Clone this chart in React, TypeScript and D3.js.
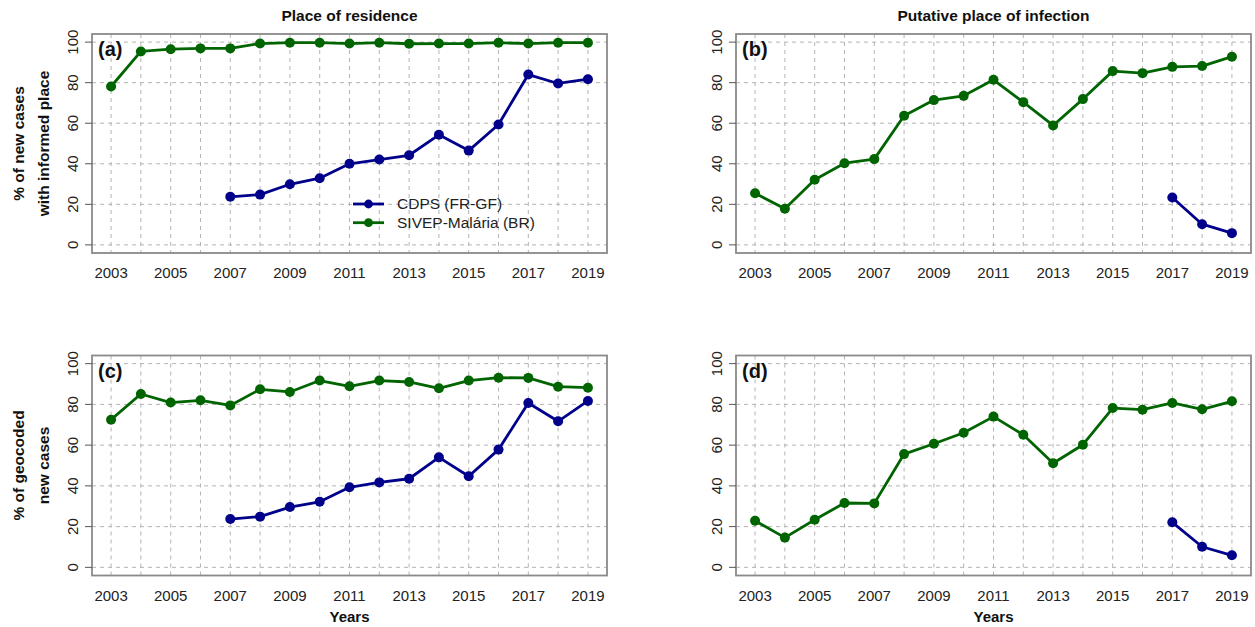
import React from "react";
import * as d3 from "d3";

// ---- data ----
const years = [2003, 2004, 2005, 2006, 2007, 2008, 2009, 2010, 2011, 2012, 2013, 2014, 2015, 2016, 2017, 2018, 2019];
const xTickYears = [2003, 2005, 2007, 2009, 2011, 2013, 2015, 2017, 2019];
const yTicks = [0, 20, 40, 60, 80, 100];

const residenceBR = [78.1, 95.4, 96.5, 96.9, 96.9, 99.3, 99.7, 99.7, 99.3, 99.7, 99.2, 99.3, 99.3, 99.7, 99.3, 99.7, 99.7];
const residenceFR = [null, null, null, null, 23.7, 24.8, 29.9, 32.9, 40.0, 42.1, 44.2, 54.3, 46.5, 59.4, 84.0, 79.6, 81.7];
const infectionBR = [25.5, 17.8, 32.1, 40.3, 42.3, 63.7, 71.4, 73.5, 81.4, 70.4, 58.9, 71.9, 85.7, 84.7, 87.8, 88.2, 92.8];
const infectionFR = [null, null, null, null, null, null, null, null, null, null, null, null, null, null, 23.4, 10.2, 5.8];
const geoResidenceBR = [72.5, 85.1, 80.9, 82.0, 79.5, 87.4, 86.1, 91.7, 88.9, 91.7, 91.0, 87.9, 91.7, 93.1, 93.0, 88.7, 88.2];
const geoResidenceFR = [null, null, null, null, 23.7, 24.9, 29.6, 32.2, 39.3, 41.7, 43.5, 54.0, 44.7, 57.8, 80.7, 71.7, 81.7];
const geoInfectionBR = [22.9, 14.6, 23.4, 31.6, 31.4, 55.6, 60.7, 66.1, 74.0, 65.1, 51.1, 60.2, 78.2, 77.4, 80.7, 77.6, 81.5];
const geoInfectionFR = [null, null, null, null, null, null, null, null, null, null, null, null, null, null, 22.1, 10.1, 5.9];

const seriesNames = ["CDPS (FR-GF)", "SIVEP-Malária (BR)"];
const columnTitles = ["Place of residence", "Putative place of infection"];
const rowLabels = [["% of new cases", "with informed place"], ["% of geocoded", "new cases"]];
const panelLetters = ["(a)", "(b)", "(c)", "(d)"];

const BLUE = "#00008B";
const GREEN = "#006400";
const FONT = "'Liberation Sans', Arial, Helvetica, sans-serif";

type Panel = {
  letter: string;
  fr: (number | null)[];
  br: (number | null)[];
  col: number;
  row: number;
};

const panels: Panel[] = [
  { letter: panelLetters[0], fr: residenceFR, br: residenceBR, col: 0, row: 0 },
  { letter: panelLetters[1], fr: infectionFR, br: infectionBR, col: 1, row: 0 },
  { letter: panelLetters[2], fr: geoResidenceFR, br: geoResidenceBR, col: 0, row: 1 },
  { letter: panelLetters[3], fr: geoInfectionFR, br: geoInfectionBR, col: 1, row: 1 },
];

const colX = [
  [92, 607],
  [736, 1251],
];
const rowY = [
  [34, 253],
  [355.5, 575.5],
];

function PanelView({ p }: { p: Panel }) {
  const [x0, x1] = colX[p.col];
  const [y0, y1] = rowY[p.row];
  const x = d3.scaleLinear().domain([2003 - 0.64, 2019 + 0.64]).range([x0, x1]);
  const y = d3.scaleLinear().domain([-4, 104]).range([y1, y0]);
  const line = d3
    .line<number | null>()
    .defined((d) => d !== null)
    .x((_, i) => x(years[i]))
    .y((d) => y(d as number));

  const drawSeries = (vals: (number | null)[], color: string) => (
    <g>
      <path d={line(vals) || ""} fill="none" stroke={color} strokeWidth={2.8} strokeLinejoin="round" />
      {vals.map((v, i) =>
        v === null ? null : <circle key={i} cx={x(years[i])} cy={y(v)} r={5} fill={color} />
      )}
    </g>
  );

  const cx = (x0 + x1) / 2;
  const cy = (y0 + y1) / 2;

  return (
    <g>
      {years.map((yr) => (
        <line key={"v" + yr} x1={x(yr)} x2={x(yr)} y1={y0} y2={y1} stroke="#b4b4b4" strokeWidth={1} strokeDasharray="4,4" />
      ))}
      {yTicks.map((t) => (
        <line key={"h" + t} x1={x0} x2={x1} y1={y(t)} y2={y(t)} stroke="#b4b4b4" strokeWidth={1} strokeDasharray="4,4" />
      ))}
      {drawSeries(p.br, GREEN)}
      {drawSeries(p.fr, BLUE)}
      <rect x={x0} y={y0} width={x1 - x0} height={y1 - y0} fill="none" stroke="#8a8a8a" strokeWidth={1.8} />
      {yTicks.map((t) => (
        <g key={"yt" + t}>
          <line x1={x0 - 7} x2={x0} y1={y(t)} y2={y(t)} stroke="#555" strokeWidth={1} />
          <text
            transform={`translate(${x0 - 14.5},${y(t)}) rotate(-90)`}
            textAnchor="middle"
            fontSize={15}
            fontFamily={FONT}
            fill="#222"
          >
            {t}
          </text>
        </g>
      ))}
      {xTickYears.map((yr) => (
        <text key={"xt" + yr} x={x(yr)} y={y1 + 25} textAnchor="middle" fontSize={15} fontFamily={FONT} fill="#222">
          {yr}
        </text>
      ))}
      <text x={x0 + 6} y={y0 + 22} fontSize={20} fontWeight="bold" fontFamily={FONT} fill="#111">
        {p.letter}
      </text>
      {p.row === 0 && (
        <text x={cx} y={20.5} textAnchor="middle" fontSize={15.5} fontWeight="bold" fontFamily={FONT} fill="#111">
          {columnTitles[p.col]}
        </text>
      )}
      {p.row === 1 && (
        <text x={cx} y={622} textAnchor="middle" fontSize={15} fontWeight="bold" fontFamily={FONT} fill="#111">
          Years
        </text>
      )}
      {p.col === 0 &&
        rowLabels[p.row].map((s, i) => (
          <text
            key={s}
            transform={`translate(${24 + i * 25},${cy}) rotate(-90)`}
            textAnchor="middle"
            fontSize={15.5}
            fontWeight="bold"
            fontFamily={FONT}
            fill="#111"
          >
            {s}
          </text>
        ))}
      {p.col === 0 && p.row === 0 &&
        [BLUE, GREEN].map((c, i) => {
          const ly = 204 + i * 18.7;
          return (
            <g key={c}>
              <line x1={353} x2={384} y1={ly} y2={ly} stroke={c} strokeWidth={2.8} />
              <circle cx={368.5} cy={ly} r={4.4} fill={c} />
              <text x={397} y={ly} dy="0.35em" fontSize={15.5} fontFamily={FONT} fill="#222">
                {seriesNames[i]}
              </text>
            </g>
          );
        })}
    </g>
  );
}

export default function App() {
  return (
    <svg
      width={1255}
      height={627}
      style={{ position: "absolute", left: 0, top: 0, background: "#fff" }}
    >
      <rect x={0} y={0} width={1255} height={627} fill="#fff" />
      {panels.map((p) => (
        <PanelView key={p.letter} p={p} />
      ))}
    </svg>
  );
}
